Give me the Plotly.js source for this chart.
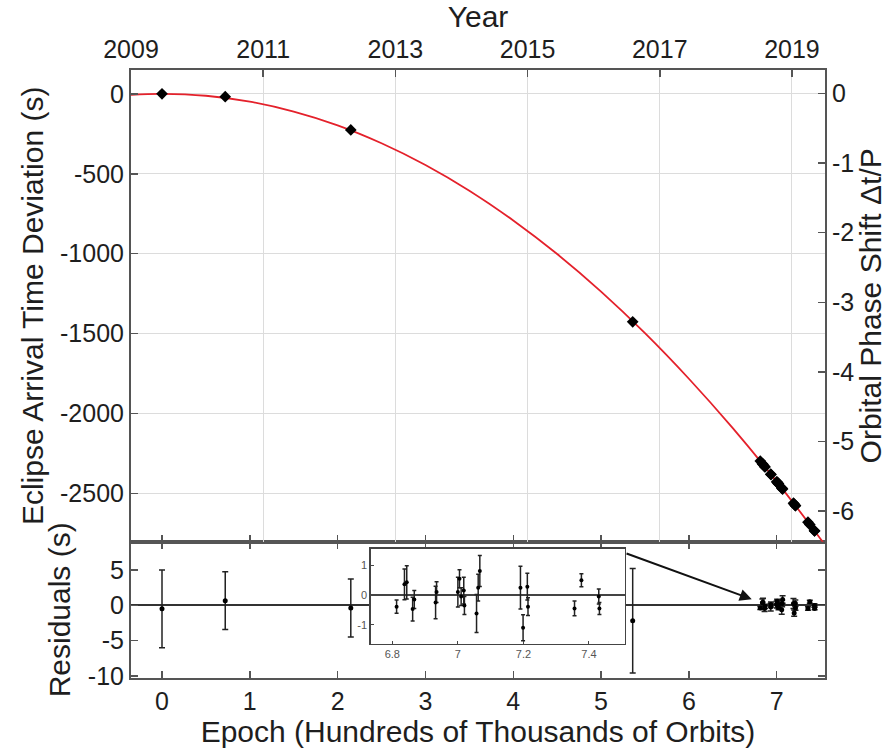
<!DOCTYPE html>
<html><head><meta charset="utf-8">
<script src="https://cdn.plot.ly/plotly-3.0.1.min.js"></script>
<style>html,body{margin:0;padding:0;background:#fff}</style>
</head><body><div id="chart" style="width:894px;height:750px"></div>
<script>
// Eclipse timing measurements: epoch (hundreds of thousands of orbits)
const epochs = [0.0, 0.72, 2.15, 5.36, 6.813, 6.837, 6.844, 6.862, 6.867, 6.932, 6.935, 7.0, 7.005, 7.01, 7.018, 7.02, 7.057, 7.062, 7.067, 7.191, 7.199, 7.212, 7.214, 7.356, 7.377, 7.43, 7.432];
// Eclipse arrival time deviation (s)
const deviations = [0, -18, -226, -1426, -2297, -2314, -2318, -2331, -2334, -2379, -2381, -2426, -2429, -2432, -2438, -2439, -2465, -2468, -2472, -2560, -2566, -2575, -2576, -2679, -2694, -2733, -2734];
// Residuals (s) and their errors (s)
const residuals = [-0.5, 0.65, -0.4, -2.2, -0.39, 0.36, 0.43, -0.47, -0.15, -0.25, 0.1, 0.1, 0.55, -0.05, 0.15, -0.35, -0.62, 0.25, 0.81, 0.25, -1.1, 0.28, -0.39, -0.45, 0.5, -0.05, -0.45];
const residualErrors = [5.5, 4.1, 4.1, 7.4, 0.22, 0.52, 0.56, 0.4, 0.3, 0.55, 0.35, 0.5, 0.3, 0.3, 0.45, 0.3, 0.64, 0.45, 0.52, 0.72, 0.44, 0.45, 0.3, 0.25, 0.22, 0.25, 0.2];
// Model curve
const fitEpochs = [-0.4, 0, 0.5, 1, 1.5, 2, 2.5, 3, 3.5, 4, 4.5, 5, 5.5, 6, 6.5, 7, 7.5, 7.6];
const fitDeviation = [-7, 0, -12, -49, -111, -197, -309, -445, -606, -792, -1002, -1237, -1497, -1782, -2091, -2425, -2784, -2859];
// Tick labels
const leftTickVals = [0, -500, -1000, -1500, -2000, -2500];
const leftTickText = ['0', '-500', '-1000', '-1500', '-2000', '-2500'];
const rightTickVals = [0, -1, -2, -3, -4, -5, -6];
const rightTickText = ['0', '-1', '-2', '-3', '-4', '-5', '-6'];
const residTickVals = [5, 0, -5, -10];
const residTickText = ['5', '0', '-5', '-10'];
const yearTickVals = [2009, 2011, 2013, 2015, 2017, 2019];
const yearTickText = ['2009', '2011', '2013', '2015', '2017', '2019'];
const epochTickVals = [0, 1, 2, 3, 4, 5, 6, 7];
const insetXTickVals = [6.8, 7.0, 7.2, 7.4];
const insetXTickText = ['6.8', '7', '7.2', '7.4'];
const insetYTickVals = [1, 0, -1];
const insetYTickText = ['1', '0', '-1'];

const insetEpochs = [], insetRes = [], insetErr = [];
epochs.forEach((e, i) => { if (e > 6.7) { insetEpochs.push(e); insetRes.push(residuals[i]); insetErr.push(residualErrors[i]); } });

const FONT = 'Liberation Sans, Arial, Helvetica, sans-serif';
const TXT = '#1e1e1e';
const LINE = '#555';
const TICKF = {family: FONT, size: 25, color: TXT};
const TITLEF = {family: FONT, size: 30, color: TXT};

const mainDomainBottom = 0.2242;
const axisCommon = {showline: true, linecolor: LINE, linewidth: 2, ticks: 'inside', ticklen: 7, tickwidth: 1.5, tickcolor: LINE, automargin: false, tickfont: TICKF, zeroline: false, showgrid: false};

const traces = [
  // invisible helpers so the overlaid year (top) and phase (right) axes are drawn
  {x: yearTickVals, y: yearTickVals.map(() => null), xaxis: 'x3', yaxis: 'y', mode: 'markers', marker: {opacity: 0}, hoverinfo: 'skip'},
  {x: epochs, y: epochs.map(() => null), xaxis: 'x2', yaxis: 'y3', mode: 'markers', marker: {opacity: 0}, hoverinfo: 'skip'},
  {x: fitEpochs, y: fitDeviation, xaxis: 'x2', yaxis: 'y', mode: 'lines', line: {color: '#e4212b', width: 1.8, shape: 'spline'}, hoverinfo: 'skip'},
  {x: epochs, y: deviations, xaxis: 'x2', yaxis: 'y', mode: 'markers', marker: {symbol: 'diamond', size: 9, color: '#000'}},
  {x: epochs, y: residuals, xaxis: 'x', yaxis: 'y2', mode: 'markers', marker: {size: 5, color: '#000'},
   error_y: {type: 'data', array: residualErrors, visible: true, color: '#222', thickness: 1.5, width: 3}},
  {x: insetEpochs, y: insetRes, xaxis: 'x4', yaxis: 'y4', mode: 'markers', marker: {size: 4, color: '#000'},
   error_y: {type: 'data', array: insetErr, visible: true, color: '#222', thickness: 1.5, width: 2}}
];

const layout = {
  width: 894, height: 750,
  margin: {l: 131, r: 69, t: 70, b: 72},
  paper_bgcolor: '#fff', plot_bgcolor: '#fff',
  showlegend: false,
  font: {family: FONT, color: TXT},
  xaxis: Object.assign({}, axisCommon, {anchor: 'y2', domain: [0, 1], range: [-0.353, 7.55], tickvals: epochTickVals, mirror: 'ticks',
    title: {text: 'Epoch (Hundreds of Thousands of Orbits)', font: TITLEF, standoff: 4}}),
  yaxis2: Object.assign({}, axisCommon, {anchor: 'x', domain: [0, mainDomainBottom], range: [-10.3, 9.0], tickvals: residTickVals, ticktext: residTickText, mirror: 'ticks',
    zeroline: true, zerolinecolor: '#333', zerolinewidth: 2,
    title: {text: 'Residuals (s)', font: TITLEF, standoff: 8}}),
  xaxis2: Object.assign({}, axisCommon, {anchor: 'y', domain: [0, 1], matches: 'x', tickvals: epochTickVals, showticklabels: false}),
  yaxis: Object.assign({}, axisCommon, {anchor: 'x2', domain: [mainDomainBottom, 1], range: [-2801, 149], tickvals: leftTickVals, ticktext: leftTickText,
    showgrid: true, gridcolor: '#dcdcdc', gridwidth: 1,
    title: {text: 'Eclipse Arrival Time Deviation (s)', font: TITLEF, standoff: 8}}),
  xaxis3: Object.assign({}, axisCommon, {overlaying: 'x2', anchor: 'y', side: 'top', range: [2009.0, 2019.5], tickvals: yearTickVals, ticktext: yearTickText,
    showgrid: true, gridcolor: '#dcdcdc', gridwidth: 1,
    title: {text: 'Year', font: TITLEF, standoff: 4}}),
  yaxis3: Object.assign({}, axisCommon, {overlaying: 'y', anchor: 'x2', side: 'right', range: [-6.44, 0.338], tickvals: rightTickVals, ticktext: rightTickText,
    title: {text: 'Orbital Phase Shift \u0394t/P', font: TITLEF, standoff: 6}}),
  xaxis4: {anchor: 'y4', domain: [0.3454, 0.7118], range: [6.734, 7.51], showline: true, mirror: true, linecolor: '#444', linewidth: 1.5,
    ticks: 'inside', ticklen: 3, tickwidth: 1, tickcolor: '#444', tickvals: insetXTickVals, ticktext: insetXTickText,
    tickfont: {family: FONT, size: 11, color: '#555'}, showgrid: false, zeroline: false, automargin: false},
  yaxis4: {anchor: 'x4', domain: [0.0567, 0.2122], range: [-1.63, 1.55], showline: true, mirror: true, linecolor: '#444', linewidth: 1.5,
    ticks: 'inside', ticklen: 3, tickwidth: 1, tickcolor: '#444', tickvals: insetYTickVals, ticktext: insetYTickText,
    tickfont: {family: FONT, size: 11, color: '#555'}, showgrid: false, zeroline: true, zerolinecolor: '#444', zerolinewidth: 2, automargin: false},
  annotations: [{
    xref: 'x', yref: 'y2', x: 6.716, y: 0.85, axref: 'x', ayref: 'y2', ax: 5.273, ay: 7.4,
    text: '', showarrow: true, arrowhead: 2, arrowsize: 1.2, arrowwidth: 2, arrowcolor: '#111'
  }]
};

Plotly.newPlot('chart', traces, layout, {displayModeBar: false, staticPlot: true});
</script></body></html>
